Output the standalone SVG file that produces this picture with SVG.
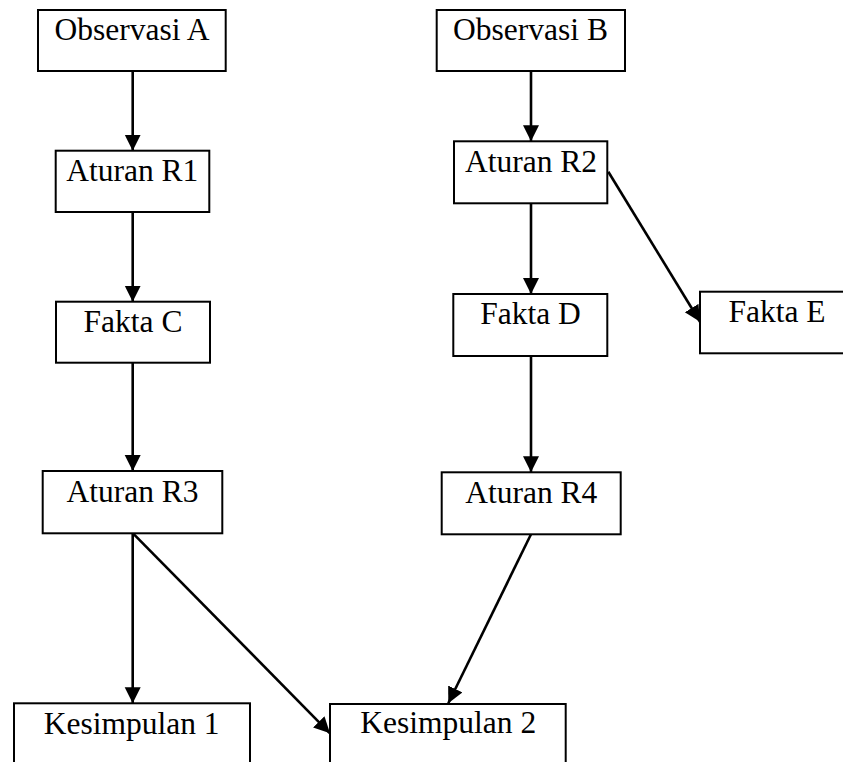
<svg xmlns="http://www.w3.org/2000/svg" width="843" height="762" viewBox="0 0 843 762">
<style>
.box{fill:#fff;stroke:#000;stroke-width:2}
.lbl{font-family:"Liberation Serif","Times New Roman",serif;font-size:31.5px;fill:#000;text-anchor:middle}
.edge{stroke:#000;stroke-width:2.6;fill:none;marker-end:url(#ah)}
</style>
<defs>
<marker id="ah" markerUnits="userSpaceOnUse" markerWidth="17" markerHeight="17" viewBox="0 0 17 17" refX="16" refY="8" orient="auto">
<path d="M0,0 L16,8 L0,16 z" fill="#000"/>
</marker>
</defs>
<rect width="843" height="762" fill="#fff"/>
<g id="connectors">
<line class="edge" x1="132.7" y1="71" x2="132.7" y2="150.7"/>
<line class="edge" x1="132.7" y1="212" x2="132.7" y2="301.7"/>
<line class="edge" x1="132.7" y1="362.7" x2="132.7" y2="471"/>
<line class="edge" x1="132.7" y1="533.3" x2="132.7" y2="703.3"/>
<line class="edge" x1="133" y1="533.3" x2="330" y2="733.3"/>
<line class="edge" x1="531" y1="71" x2="531" y2="141.3"/>
<line class="edge" x1="531" y1="203.3" x2="531" y2="294"/>
<line class="edge" x1="608.3" y1="171.7" x2="700" y2="321.7"/>
<line class="edge" x1="531" y1="356" x2="531" y2="472.3"/>
<line class="edge" x1="531" y1="534.3" x2="448.3" y2="703.3"/>
</g>
<g id="observasi-a"><rect class="box" x="38" y="10" width="187.7" height="61"/><text class="lbl" x="132" y="40">Observasi A</text></g>
<g id="aturan-r1"><rect class="box" x="55.7" y="150.7" width="153.6" height="61.3"/><text class="lbl" x="132.3" y="181">Aturan R1</text></g>
<g id="fakta-c"><rect class="box" x="56" y="301.7" width="154" height="61"/><text class="lbl" x="133" y="331.7">Fakta C</text></g>
<g id="aturan-r3"><rect class="box" x="42.7" y="471" width="179.6" height="62.3"/><text class="lbl" x="132.5" y="501.7">Aturan R3</text></g>
<g id="kesimpulan-1"><rect class="box" x="14" y="703.3" width="236" height="70"/><text class="lbl" x="131.7" y="734">Kesimpulan 1</text></g>
<g id="observasi-b"><rect class="box" x="436.7" y="10" width="188.3" height="61"/><text class="lbl" x="530.5" y="40">Observasi B</text></g>
<g id="aturan-r2"><rect class="box" x="454" y="141.3" width="153.3" height="62"/><text class="lbl" x="531" y="171.7">Aturan R2</text></g>
<g id="fakta-d"><rect class="box" x="453.3" y="294" width="154" height="62"/><text class="lbl" x="530.5" y="324">Fakta D</text></g>
<g id="fakta-e"><rect class="box" x="700" y="291.7" width="160" height="61.6"/><text class="lbl" x="777" y="321.7">Fakta E</text></g>
<g id="aturan-r4"><rect class="box" x="441.7" y="472.3" width="179" height="62"/><text class="lbl" x="531.3" y="502.7">Aturan R4</text></g>
<g id="kesimpulan-2"><rect class="box" x="330" y="704" width="235.7" height="70"/><text class="lbl" x="448.3" y="733.3">Kesimpulan 2</text></g>
</svg>
